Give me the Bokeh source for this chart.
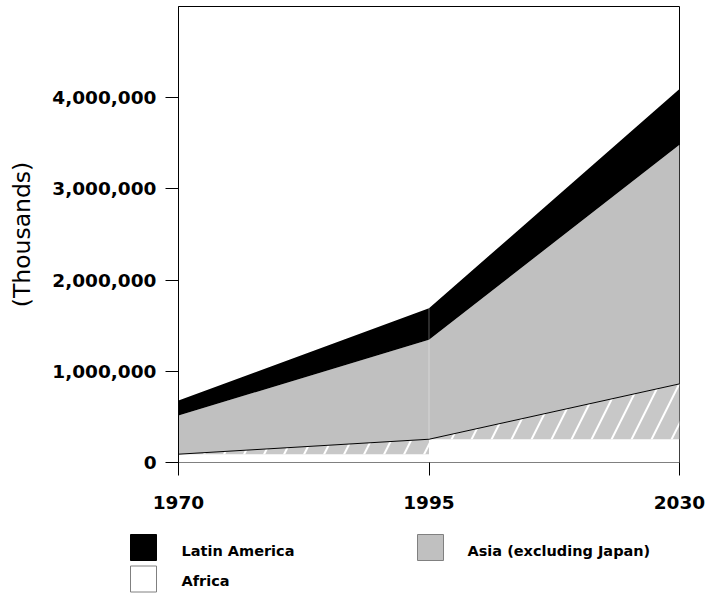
from bokeh.plotting import figure
from bokeh.models import Range1d, FixedTicker, NumeralTickFormatter
from bokeh.layouts import column
from bokeh.embed import file_html
from bokeh.resources import INLINE
from bokeh.core.properties import value

# ---- data (thousands) ----
years = ["1970", "1995", "2030"]
africa = [91000, 255000, 862000]
asia = [424000, 1090000, 2623000]
latin_america = [164000, 346000, 610000]
y_ticks = [0, 1000000, 2000000, 3000000, 4000000]
series_names = ["Latin America", "Asia (excluding Japan)", "Africa"]
series_fill = ["black", "#c0c0c0", "white"]
series_edge = ["black", "#808080", "#808080"]

x = list(range(len(years)))
asia_top = [a + b for a, b in zip(africa, asia)]
total = [a + b for a, b in zip(asia_top, latin_america)]

FONT = "DejaVu Sans"
W = 705
H_MAIN, H_LEG = 528, 67

p = figure(width=W, height=H_MAIN, output_backend="svg", toolbar_location=None,
           x_range=Range1d(x[0], x[-1]), y_range=Range1d(0, 5000000),
           min_border_left=178, min_border_right=26, min_border_top=6,
           min_border_bottom=66)
p.xgrid.visible = False
p.ygrid.visible = False
p.outline_line_color = "black"
p.outline_line_width = 1
p.background_fill_color = "white"
p.border_fill_color = "white"

# Africa (white) with hatched light-grey blocks
p.varea(x=x, y1=[0] * len(x), y2=africa, fill_color="white")
for i in range(len(x) - 1):
    p.varea(x=[x[i], x[i + 1]], y1=[africa[i], africa[i]],
            y2=[africa[i], africa[i + 1]], fill_color="#c8c8c8",
            hatch_pattern="/", hatch_color="white", hatch_scale=40,
            hatch_weight=2)
# Asia
p.varea(x=x, y1=africa, y2=asia_top, fill_color="#c0c0c0")
# Latin America
p.varea(x=x, y1=asia_top, y2=total, fill_color="black")
# Africa top line
p.line(x, africa, line_color="black", line_width=1)
# seam at the middle year
p.segment(x0=x[1:-1], x1=x[1:-1], y0=africa[1:-1], y1=total[1:-1],
          line_color="white", line_alpha=0.35, line_width=1)

# x axis
p.xaxis.ticker = FixedTicker(ticks=x)
p.xaxis.major_label_overrides = {i: y for i, y in zip(x, years)}
p.xaxis.axis_line_color = "#808080"
p.xaxis.major_tick_line_color = "black"
p.xaxis.major_tick_out = 13
p.xaxis.major_tick_in = 0
p.xaxis.minor_tick_line_color = None
p.xaxis.major_label_text_font = FONT
p.xaxis.major_label_text_font_style = "bold"
p.xaxis.major_label_text_font_size = "18.5px"
p.xaxis.major_label_text_color = "black"
p.xaxis.major_label_standoff = 20

# y axis
p.yaxis.ticker = FixedTicker(ticks=y_ticks)
p.yaxis.formatter = NumeralTickFormatter(format="0,0")
p.yaxis.axis_line_color = "black"
p.yaxis.major_tick_line_color = "black"
p.yaxis.major_tick_out = 13
p.yaxis.major_tick_in = 0
p.yaxis.minor_tick_line_color = None
p.yaxis.major_label_text_font = FONT
p.yaxis.major_label_text_font_style = "bold"
p.yaxis.major_label_text_font_size = "18.5px"
p.yaxis.major_label_text_color = "black"
p.yaxis.major_label_standoff = 9
p.yaxis.axis_label = "(Thousands)"
p.yaxis.axis_label_text_font = FONT
p.yaxis.axis_label_text_font_style = "normal"
p.yaxis.axis_label_text_font_size = "23.5px"
p.yaxis.axis_label_text_color = "black"
p.yaxis.axis_label_standoff = 13

# ---- legend strip (separate canvas below the chart) ----
leg = figure(width=W, height=H_LEG, output_backend="svg", toolbar_location=None,
             x_range=Range1d(0, W), y_range=Range1d(H_LEG, 0),
             x_axis_type=None, y_axis_type=None, min_border=0)
leg.outline_line_color = None
leg.background_fill_color = "white"
leg.border_fill_color = "white"
leg.grid.visible = False
for fig in (p, leg):
    if "frame_align" in fig.properties():
        fig.frame_align = False

sw_x = [143, 430, 143]
sw_y = [19, 19, 50.5]
tx_x = [181, 467, 181]
tx_y = [22, 22, 52]
leg.rect(x=sw_x, y=sw_y, width=26, height=26, fill_color=series_fill,
         line_color=series_edge, line_width=1)
leg.text(x=tx_x, y=tx_y, text=series_names, text_font=value(FONT),
         text_font_style="bold", text_font_size="14.5px",
         text_baseline="middle", text_align="left", text_color="black")

layout = column(p, leg, spacing=0)
open("out.html", "w").write(file_html(layout, INLINE))
